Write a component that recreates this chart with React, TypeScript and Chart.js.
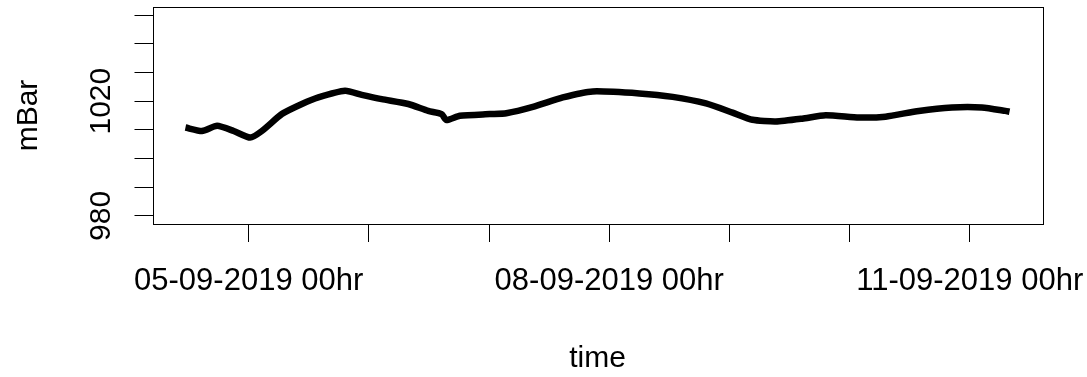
import React, { useEffect, useRef } from "react";
import { Chart, registerables } from "chart.js";

Chart.register(...registerables);

// Time in days of September 2019 (e.g. 5.0 = 05-09-2019 00hr)
const timeDays = [
  4.474, 4.612, 4.737, 4.875, 5.013, 5.11, 5.276, 5.443, 5.58, 5.802, 5.941,
  6.107, 6.328, 6.494, 6.605, 6.646, 6.757, 7.006, 7.144, 7.365, 7.614, 7.863,
  8.251, 8.528, 8.805, 9.026, 9.192, 9.386, 9.607, 9.801, 10.078, 10.299,
  10.576, 10.852, 11.101, 11.296, 11.331,
];
// Pressure in mBar
const pressure = [
  1010.8, 1009.6, 1011.4, 1009.6, 1007.3, 1009.6, 1015.5, 1019.0, 1021.3,
  1023.6, 1022.2, 1020.7, 1019.0, 1016.6, 1015.5, 1013.4, 1014.9, 1015.5,
  1015.8, 1018.0, 1021.3, 1023.4, 1022.7, 1021.5, 1019.2, 1016.0, 1013.5,
  1012.9, 1013.9, 1015.1, 1014.3, 1014.6, 1016.6, 1017.8, 1017.8, 1016.6,
  1016.3,
];

const xTickDays = [5, 6, 7, 8, 9, 10, 11];
const xLabelDays = [5, 8, 11];
const xLabels = ["05-09-2019 00hr", "08-09-2019 00hr", "11-09-2019 00hr"];
const yTickValues = [980, 990, 1000, 1010, 1020, 1030, 1040, 1050];
const yLabelValues = [980, 1020];
const yLim = [980, 1050];
const xTitle = "time";
const yTitle = "mBar";

const FONT = '30px "Liberation Sans", Arial, sans-serif';
const XFONT = '31px "Liberation Sans", Arial, sans-serif';

export default function App() {
  const canvasRef = useRef<HTMLCanvasElement | null>(null);

  useEffect(() => {
    const canvas = canvasRef.current;
    if (!canvas) return;

    const xMinData = Math.min(...timeDays);
    const xMaxData = Math.max(...timeDays);
    const xExt = (xMaxData - xMinData) * 0.04;
    const yExt = (yLim[1] - yLim[0]) * 0.04;

    const boxAndText = {
      id: "boxAndText",
      afterDraw(chart: any) {
        const ctx = chart.ctx;
        const ca = chart.chartArea;
        const xs = chart.scales.x;
        const ys = chart.scales.y;
        ctx.save();
        ctx.strokeStyle = "#000";
        ctx.lineWidth = 1;
        ctx.strokeRect(
          Math.round(ca.left) + 0.5,
          Math.round(ca.top) + 0.5,
          Math.round(ca.right) - Math.round(ca.left),
          Math.round(ca.bottom) - Math.round(ca.top)
        );
        ctx.fillStyle = "#000";
        ctx.textBaseline = "alphabetic";
        ctx.textAlign = "center";
        ctx.font = XFONT;
        xLabelDays.forEach((d, i) => {
          ctx.fillText(xLabels[i], xs.getPixelForValue(d), 290);
        });
        ctx.font = FONT;
        ctx.fillText(xTitle, (ca.left + ca.right) / 2, 367);
        yLabelValues.forEach((v) => {
          ctx.save();
          ctx.translate(110, ys.getPixelForValue(v));
          ctx.rotate(-Math.PI / 2);
          ctx.fillText(String(v), 0, 0);
          ctx.restore();
        });
        ctx.save();
        ctx.translate(37, (ca.top + ca.bottom) / 2);
        ctx.rotate(-Math.PI / 2);
        ctx.fillText(yTitle, 0, 0);
        ctx.restore();
        ctx.restore();
      },
    };

    const chart = new Chart(canvas, {
      type: "line",
      data: {
        datasets: [
          {
            data: timeDays.map((t, i) => ({ x: t, y: pressure[i] })),
            borderColor: "#000",
            borderWidth: 6.5,
            pointRadius: 0,
            tension: 0.2,
            borderJoinStyle: "round",
            fill: false,
          },
        ],
      },
      options: {
        responsive: false,
        animation: false,
        devicePixelRatio: 1,
        layout: { padding: { top: 7, right: 44.5, left: 0, bottom: 0 } },
        plugins: { legend: { display: false }, tooltip: { enabled: false } },
        scales: {
          x: {
            type: "linear",
            min: xMinData - xExt,
            max: xMaxData + xExt,
            afterBuildTicks: (scale: any) => {
              scale.ticks = xTickDays.map((v) => ({ value: v }));
            },
            afterFit: (scale: any) => {
              scale.height = 153;
            },
            ticks: { display: false },
            border: { display: false },
            grid: {
              drawOnChartArea: false,
              drawTicks: true,
              tickLength: 18,
              color: "#000",
              lineWidth: 1,
            },
          },
          y: {
            type: "linear",
            min: yLim[0] - yExt,
            max: yLim[1] + yExt,
            afterBuildTicks: (scale: any) => {
              scale.ticks = yTickValues.map((v) => ({ value: v }));
            },
            afterFit: (scale: any) => {
              scale.width = 152.5;
            },
            ticks: { display: false },
            border: { display: false },
            grid: {
              drawOnChartArea: false,
              drawTicks: true,
              tickLength: 18,
              color: "#000",
              lineWidth: 1,
            },
          },
        },
      },
      plugins: [boxAndText],
    } as any);

    return () => {
      chart.destroy();
    };
  }, []);

  return (
    <div
      style={{
        position: "fixed",
        left: 0,
        top: 0,
        width: 1087,
        height: 377,
        background: "#fff",
      }}
    >
      <canvas
        ref={canvasRef}
        width={1087}
        height={377}
        style={{ display: "block", width: 1087, height: 377 }}
      />
    </div>
  );
}
